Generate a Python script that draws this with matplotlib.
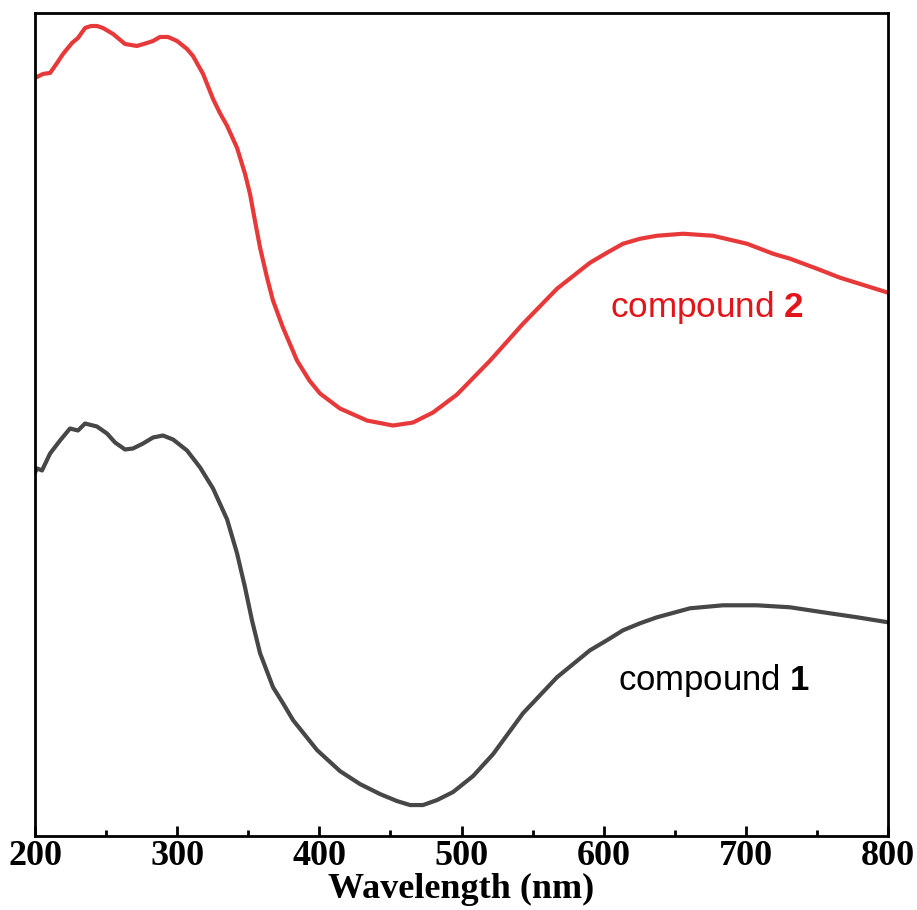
import matplotlib
matplotlib.use('Agg')
import matplotlib.pyplot as plt
from matplotlib.ticker import MultipleLocator

# spectra (arbitrary units, already offset)
wl_2 = [200.0, 205.6, 210.6, 215.5, 219.7, 226.0, 230.2, 235.2, 239.4, 243.6,
        247.8, 254.9, 263.3, 271.7, 278.8, 283.0, 287.9, 293.6, 299.9, 306.9,
        311.1, 318.2, 325.2, 330.0, 335.1, 342.1, 347.7, 351.2, 354.7, 358.3,
        363.2, 367.4, 374.4, 384.3, 393.0, 400.5, 414.5, 433.5, 451.8, 465.9,
        479.9, 496.8, 520.1, 543.3, 567.2, 590.4, 602.3, 613.6, 625.6, 637.5,
        655.8, 676.9, 700.8, 719.1, 731.1, 750.0, 766.2, 800.0]
abs_2 = [7.59, 7.63, 7.64, 7.74, 7.83, 7.94, 7.99, 8.09, 8.11, 8.11,
         8.09, 8.03, 7.93, 7.91, 7.94, 7.96, 8.00, 8.00, 7.96, 7.88,
         7.81, 7.63, 7.38, 7.24, 7.11, 6.89, 6.63, 6.43, 6.16, 5.89,
         5.59, 5.36, 5.09, 4.76, 4.56, 4.43, 4.28, 4.16, 4.11, 4.14,
         4.24, 4.42, 4.76, 5.13, 5.48, 5.74, 5.84, 5.93, 5.98, 6.01,
         6.03, 6.01, 5.93, 5.83, 5.78, 5.68, 5.59, 5.44]

wl_1 = [200.0, 201.4, 204.9, 210.6, 217.6, 224.6, 230.2, 235.2, 243.6, 250.6,
        256.3, 263.3, 268.9, 276.0, 283.0, 290.0, 297.1, 306.9, 316.1, 325.2,
        335.1, 342.1, 347.7, 352.6, 358.3, 367.4, 374.4, 381.5, 398.4, 414.5,
        428.6, 442.7, 454.6, 463.8, 472.9, 482.8, 494.0, 508.1, 522.2, 543.3,
        567.2, 590.4, 602.3, 613.6, 625.6, 637.5, 660.7, 683.9, 707.8, 731.1,
        754.3, 778.2, 800.0]
abs_1 = [3.64, 3.68, 3.66, 3.83, 3.96, 4.08, 4.06, 4.13, 4.10, 4.03,
         3.94, 3.87, 3.88, 3.93, 3.99, 4.01, 3.97, 3.86, 3.69, 3.48,
         3.17, 2.83, 2.49, 2.16, 1.83, 1.49, 1.33, 1.16, 0.86, 0.65,
         0.52, 0.42, 0.35, 0.31, 0.31, 0.36, 0.44, 0.60, 0.82, 1.23,
         1.59, 1.86, 1.96, 2.06, 2.13, 2.19, 2.28, 2.31, 2.31, 2.29,
         2.24, 2.19, 2.14]

plt.rcParams['mathtext.fontset'] = 'custom'
plt.rcParams['mathtext.rm'] = 'Liberation Sans'
plt.rcParams['mathtext.bf'] = 'Liberation Sans:bold'

fig = plt.figure(figsize=(9.17, 9.10), dpi=100)
ax = fig.add_axes([0.0382, 0.0813, 0.9302, 0.9044])

ax.plot(wl_2, abs_2, color='#e8393a', lw=3.0, solid_joinstyle='round')
ax.plot(wl_1, abs_1, color='#474747', lw=3.0, solid_joinstyle='round')

ax.text(604.5, 5.29, r'compound $\mathbf{2}$', color='#e3151a', fontsize=25.3,
        family='Liberation Sans', va='center', ha='left')
ax.text(610, 1.56, r'compound $\mathbf{1}$', color='black', fontsize=25,
        family='Liberation Sans', va='center', ha='left')

ax.set_xlim(200, 800)
ax.set_ylim(0, 8.24)
ax.xaxis.set_major_locator(MultipleLocator(100))
ax.xaxis.set_minor_locator(MultipleLocator(50))
ax.tick_params(axis='x', which='major', direction='in', length=7, width=2, pad=3)
ax.tick_params(axis='x', which='minor', direction='in', length=4, width=2)
ax.set_yticks([])
for lab in ax.get_xticklabels():
    lab.set_family('Liberation Serif')
    lab.set_fontweight('bold')
    lab.set_fontsize(26)
for sp in ax.spines.values():
    sp.set_linewidth(2)

ax.set_xlabel('Wavelength (nm)', family='Liberation Serif', fontweight='bold',
              fontsize=26, labelpad=0)

fig.savefig('out.png', dpi=100)
